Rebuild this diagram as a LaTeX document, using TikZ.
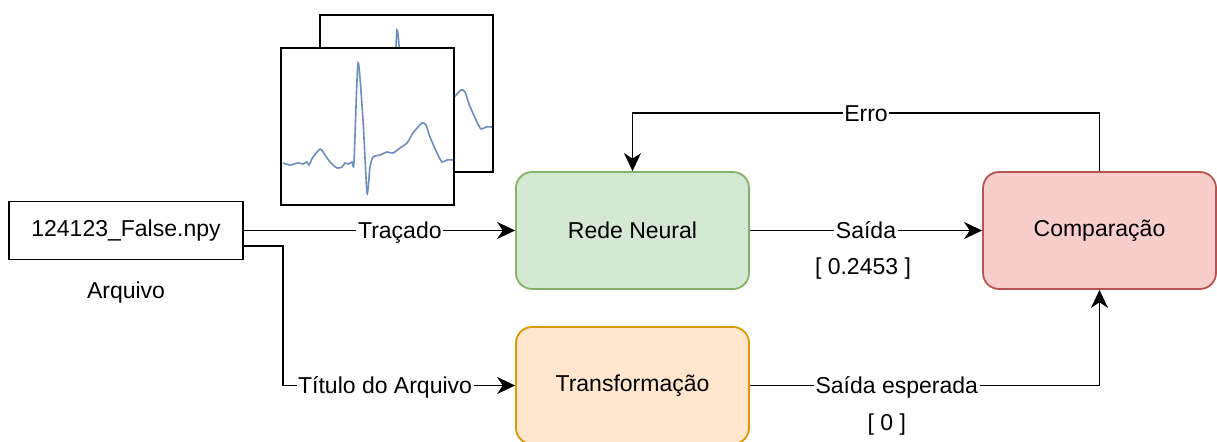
\documentclass[tikz,border=0pt]{standalone}
\usepackage{fontspec}
\setmainfont{Liberation Sans}
\usetikzlibrary{positioning,arrows.meta}

\definecolor{nnfill}{HTML}{D5E8D4}
\definecolor{nnline}{HTML}{82B366}
\definecolor{trfill}{HTML}{FFE6CC}
\definecolor{trline}{HTML}{D79B00}
\definecolor{cpfill}{HTML}{F8CECC}
\definecolor{cpline}{HTML}{B85450}
\definecolor{ecgline}{HTML}{6C8EBF}

\tikzset{
  block/.style={rectangle, rounded corners=8pt, line width=0.9pt,
    minimum width=116.5pt, minimum height=58.5pt, align=center},
  filebox/.style={rectangle, draw=black, line width=0.9pt,
    minimum width=117pt, minimum height=29pt},
  link/.style={line width=0.9pt, -{Stealth[length=9pt, width=8.5pt, inset=2.8pt]}},
  lbl/.style={fill=white, inner sep=0.8pt, text height=8.2pt, text depth=0pt},
  % one ecg sample in its frame
  ecgframe/.pic={
    \draw[line width=0.9pt, fill=white] (0,0) rectangle (173,157);
    \draw[ecgline, line width=0.8pt] plot[smooth, tension=0.4] coordinates {
      (2,115) (9,117) (17,115) (22,116) (26,114) (28,117) (32,109) (39,101)
      (42,104) (49,114) (56,120) (61,119) (64,115) (67,116) (71,114) (73,114)
      (77,15) (82,72) (86,145) (89,119) (92,109) (99,107) (106,104) (112,105)
      (119,100) (126,95) (132,85) (141,75) (145,77) (149,89) (156,105)
      (161,114) (166,112) (172,112)};
  }
}

\begin{document}
\begin{tikzpicture}[x=0.5pt, y=-0.5pt, font=\fontsize{11.5pt}{14pt}\selectfont]
\useasboundingbox (0,0) rectangle (1217,442);

% ecg samples, back one first
\pic at (320,15) {ecgframe};
\pic at (281,48) {ecgframe};

\node (file) [filebox] at (126,230.5) {124123\_False.npy};
\node (name) [below=7pt of file] {Arquivo};

\node (nn) [block, fill=nnfill, draw=nnline] at (632.5,230.5) {Rede Neural};
\node (trafo) [block, fill=trfill, draw=trline] at (632.5,385.5) {Transformação};
\node (comp) [block, fill=cpfill, draw=cpline] at (1099.5,230.5) {Comparação};

\draw [link] (file.east) -- node[lbl, pos=0.575] {Traçado} (nn.west);
\draw [link] ([yshift=-7.75pt]file.east) -- ++(39,0)
  |- node[lbl, pos=0.72] {Título do Arquivo} (trafo.west);

\draw [link] (nn.east) -- node[lbl, pos=0.5] (outlbl) {Saída} (comp.west);
\node (outval) at ([xshift=-1.5pt, yshift=-19pt]outlbl.center) {[ 0.2453 ]};

\draw [link] (trafo.east) -| node[lbl, pos=0.21] (explbl) {Saída esperada} (comp.south);
\node (expval) at ([xshift=-5pt, yshift=-19.5pt]explbl.center) {[ 0 ]};

\draw [link] (comp.north) -- ++(0,-58) -| node[lbl, pos=0.25] {Erro} (nn.north);
\end{tikzpicture}
\end{document}
